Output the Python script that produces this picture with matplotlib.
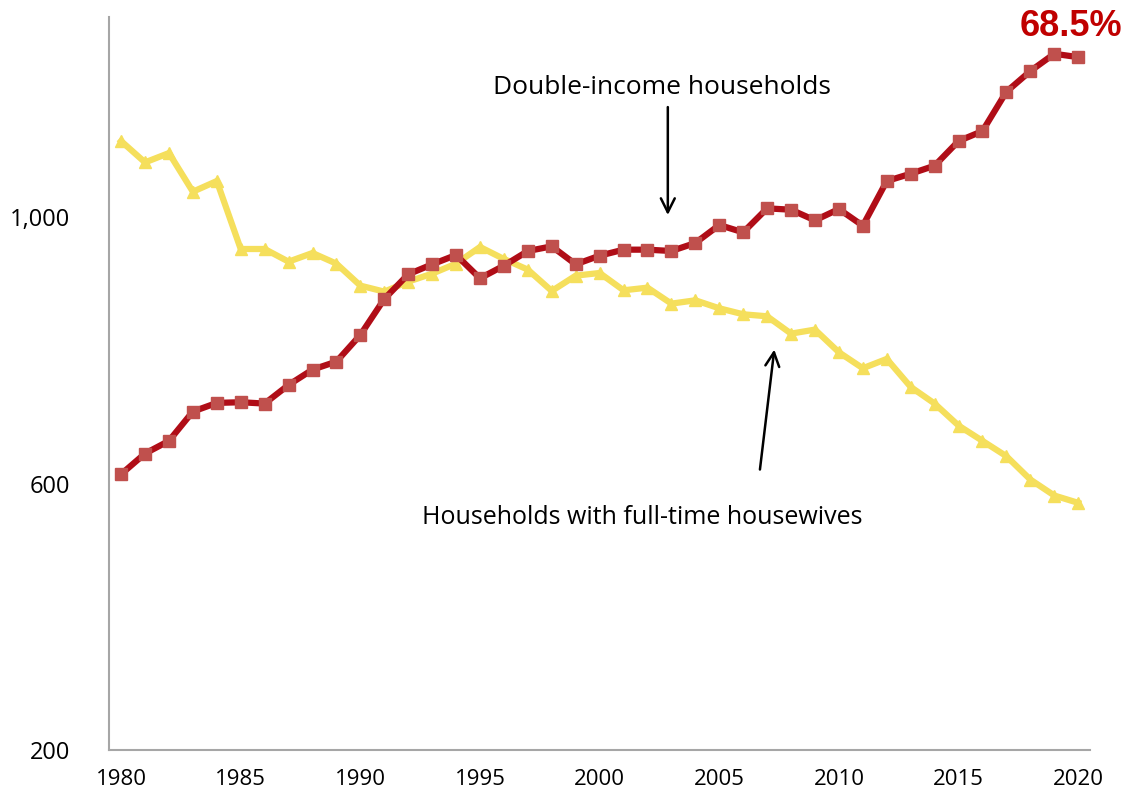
import matplotlib.pyplot as plt

years = list(range(1980, 2021))
double_income = [614, 645, 664, 708, 721, 722, 720, 748, 771, 783,
                 823, 877, 914, 929, 943, 908, 927, 949, 956, 929,
                 942, 951, 951, 949, 961, 988, 977, 1013, 1011, 995,
                 1012, 987, 1054, 1065, 1077, 1114, 1129, 1188, 1219, 1245,
                 1240]
housewives = [1114, 1082, 1096, 1038, 1054, 952, 952, 933, 946, 930,
              897, 888, 903, 915, 930, 955, 937, 921, 889, 912,
              916, 890, 894, 870, 875, 863, 854, 851, 825, 831,
              797, 773, 787, 745, 720, 687, 664, 641, 606, 582,
              571]
yticks = [200, 600, 1000]
xticks = [1980, 1985, 1990, 1995, 2000, 2005, 2010, 2015, 2020]

plt.rcParams['font.family'] = ['Open Sans', 'DejaVu Sans']

fig = plt.figure(figsize=(11.25, 7.94), dpi=100)
ax = fig.add_axes([0.097, 0.0554, 0.872, 0.923])

ax.plot(years, housewives, color='#F5DF5C', lw=4.5, marker='^', ms=9,
        markerfacecolor='#F5DF5C', markeredgecolor='#F5DF5C', zorder=2)
ax.plot(years, double_income, color='#B00D17', lw=4.5, marker='s', ms=9,
        markerfacecolor='#C0504D', markeredgecolor='#C0504D', zorder=3)

ax.set_xlim(1979.5, 2020.5)
ax.set_ylim(200, 1300)
ax.set_yticks(yticks)
ax.set_yticklabels([f'{v:,}' for v in yticks])
ax.set_xticks(xticks)
ax.tick_params(length=0, labelsize=16)
ax.tick_params(axis='y', labelsize=17, pad=28)
ax.tick_params(axis='x', pad=14)
for s in ['top', 'right']:
    ax.spines[s].set_visible(False)
for s in ['left', 'bottom']:
    ax.spines[s].set_color('#A6A6A6')
    ax.spines[s].set_linewidth(1.5)

# labels and arrows
ax.text(2002.6, 1194, 'Double-income households', ha='center', va='center', fontsize=19)
ax.annotate('', xy=(2002.85, 1003), xytext=(2002.85, 1165),
            arrowprops=dict(arrowstyle='->', color='black', lw=1.8,
                            mutation_scale=25, shrinkA=0, shrinkB=0))
ax.text(2001.8, 549, 'Households with full-time housewives', ha='center', va='center', fontsize=18)
ax.annotate('', xy=(2007.3, 801), xytext=(2006.7, 621),
            arrowprops=dict(arrowstyle='->', color='black', lw=1.8,
                            mutation_scale=25, shrinkA=0, shrinkB=0))

ax.text(2021.85, 1286, '68.5%', color='#C00000', fontsize=26, fontweight='bold',
        family='Liberation Sans', ha='right', va='center', clip_on=False)

fig.savefig('out.png', dpi=100)
